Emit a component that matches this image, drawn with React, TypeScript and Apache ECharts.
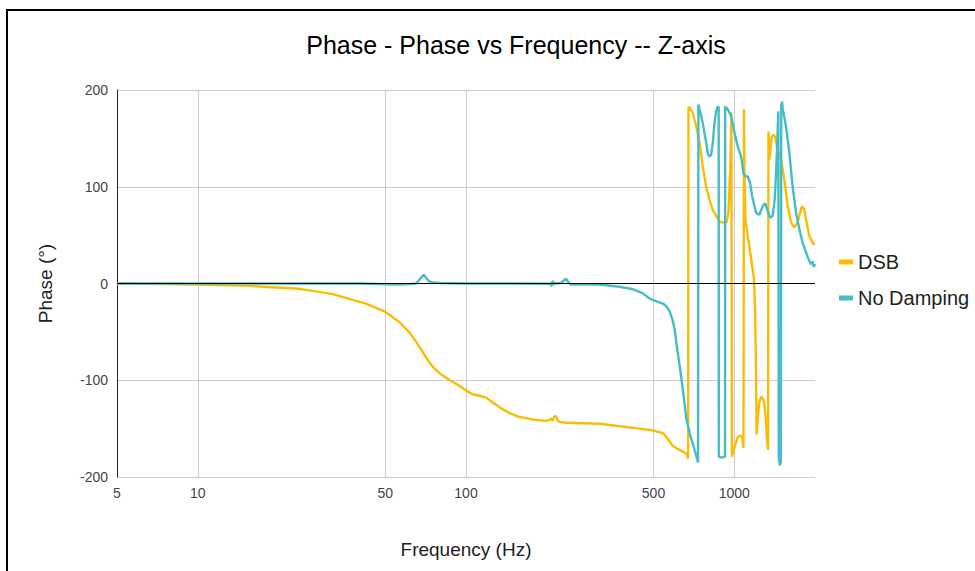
import React, { useEffect, useRef } from "react";
import * as echarts from "echarts";

const titleText = "Phase - Phase vs Frequency -- Z-axis";
const xTicks = [5, 10, 50, 100, 500, 1000];
const yTicksMin = -200;
const yTicksMax = 200;

const dsbFreq = [
  5, 6.6, 10, 15.6, 24, 31.9, 42.6, 49.8, 56.6, 61.7, 65.5, 69, 72, 75.1, 79.8, 84.8, 94.7, 100.6, 105.9, 112,
  119, 125.7, 133.5, 145.4, 158.5, 177, 199.7, 205, 208, 210, 213, 216, 219, 223, 237, 315, 443.5, 501, 545, 591,
  625, 664, 673, 675, 681, 700, 721, 742, 763, 786, 808, 831, 856, 881, 906, 935, 951, 968, 976, 980,
  993, 1010, 1030, 1052, 1070, 1082, 1087, 1092, 1101, 1123, 1150, 1185, 1195, 1201, 1206, 1211, 1223, 1241, 1262, 1285,
  1299, 1315, 1329, 1337, 1341, 1352, 1364, 1379, 1399, 1419, 1448, 1495, 1538, 1582, 1629, 1675, 1723, 1759, 1789, 1825,
  1861, 1905, 1960, 2000,
];
const dsbPhase = [
  0, -0.3, -1, -2.5, -5.5, -11, -21, -29, -40, -51, -61, -71, -79, -86, -93, -98, -106, -111, -114.5, -116,
  -118, -123, -128, -134, -138, -140.5, -142, -141, -139.5, -142, -138, -137, -141, -143, -144, -145, -150, -152, -155, -168,
  -172, -176, -181, 182, 182, 176, 163, 146, 121, 100, 87, 76, 70, 64, 63, 63, 73, 125, 177, -179,
  -173, -166, -159, -157, -159, -170, 180, 110, 65, 49, 30, 5, -25, -60, -94, -156, -139, -122, -117, -120,
  -128, -146, -166, -172, 157, 128, 138, 151, 154, 152, 140, 128, 107, 80, 63, 58, 63, 73, 80, 76,
  63, 49, 42, 40,
];

const ndFreq = [
  5, 20, 40, 55, 62, 65.3, 67.5, 69.6, 71.5, 73, 75, 80, 100, 150, 200, 207, 208, 209, 210, 211,
  212, 214, 225, 232, 236, 240, 245, 260, 315, 373, 420, 455, 480, 496, 520, 545, 560, 575, 588, 599,
  609, 622, 636, 650, 663, 685, 705, 733, 735, 742, 753, 763, 774, 786, 797, 808, 820, 831, 844, 856,
  868, 875, 876, 900, 924, 925, 946, 974, 1002, 1030, 1061, 1082, 1099, 1123, 1146, 1166, 1189, 1206, 1241, 1277,
  1303, 1332, 1360, 1391, 1415, 1432, 1448, 1460, 1465, 1478, 1492, 1497, 1508, 1515, 1560, 1605, 1651, 1700, 1749, 1799,
  1852, 1905, 1933, 1960, 1980, 2000,
];
const ndPhase = [
  0, 0, 0, -1, -0.5, 0, 5, 9, 5, 2, 1, 0.5, 0, 0, -0.3, 0, -3, 2, -2, 3,
  -1, 0, 0.5, 3, 5, 2, -1, -1, -1, -3.4, -6, -10, -15, -17, -19, -21, -24, -29, -37, -47,
  -62, -80, -99, -120, -140, -157, -168, -185, 185, 180, 173, 166, 156, 146, 134, 131, 133, 144, 166, 178,
  183, 182, -179, -180, -179, 183, 180, 173, 156, 142, 131, 114, 111, 110.6, 104, 90, 80, 73, 71, 80,
  83, 75, 68, 70, 87, 114, 149, 178, -180, -188, -184, 184, 188, 181, 162, 135, 100, 73, 56, 42,
  32, 23, 20, 23, 17, 20,
];

const FONT = "'Liberation Sans', Arial, sans-serif";

export default function App() {
  const ref = useRef<HTMLDivElement | null>(null);

  useEffect(() => {
    if (!ref.current) return;
    const chart = echarts.init(ref.current, undefined, { renderer: "svg" });
    const dsbData = dsbFreq.map((f, i) => [f, dsbPhase[i]]);
    const ndData = ndFreq.map((f, i) => [f, ndPhase[i]]);
    chart.setOption({
      animation: false,
      backgroundColor: "#ffffff",
      textStyle: { fontFamily: FONT },
      title: {
        text: titleText,
        left: 511,
        top: 27,
        textAlign: "center",
        textStyle: { fontFamily: FONT, fontSize: 25, fontWeight: "normal", color: "#000" },
      },
      legend: {
        orient: "vertical",
        left: 834,
        top: 247,
        itemWidth: 14,
        itemHeight: 5,
        itemGap: 16,
        icon: "rect",
        data: ["DSB", "No Damping"],
        textStyle: { fontFamily: FONT, fontSize: 20, color: "#222" },
      },
      graphic: [
        {
          type: "rect",
          shape: { x: 7, y: 10, width: 1000, height: 600 },
          style: { fill: "none", stroke: "#000", lineWidth: 2 },
          silent: true,
        },
      ],
      grid: { left: 117, right: 160, top: 90, bottom: 94 },
      xAxis: {
        type: "log",
        logBase: 10,
        min: 5,
        max: 2000,
        name: "Frequency (Hz)",
        nameLocation: "middle",
        nameGap: 63,
        nameTextStyle: { fontFamily: FONT, fontSize: 19, color: "#222" },
        axisLine: { show: false },
        axisTick: { show: false, customValues: xTicks },
        axisLabel: {
          customValues: xTicks,
          formatter: (v: number) => String(Math.round(v)),
          color: "#444",
          fontSize: 14,
          margin: 9,
          fontFamily: FONT,
        },
        splitLine: { show: true, lineStyle: { color: "#cccccc", width: 1 } },
      },
      yAxis: {
        type: "value",
        min: yTicksMin,
        max: yTicksMax,
        interval: 100,
        name: "Phase (°)",
        nameLocation: "middle",
        nameGap: 62,
        nameTextStyle: { fontFamily: FONT, fontSize: 19, color: "#222" },
        axisLine: { show: true, lineStyle: { color: "#222", width: 1 } },
        axisTick: { show: false },
        axisLabel: { color: "#444", fontSize: 14, margin: 9, fontFamily: FONT },
        splitLine: { show: true, lineStyle: { color: "#cccccc", width: 1 } },
      },
      series: [
        {
          name: "DSB",
          type: "line",
          data: dsbData,
          showSymbol: false,
          symbol: "none",
          color: "#fbbc04",
          lineStyle: { width: 2.4, color: "#fbbc04" },
          markLine: {
            silent: true,
            symbol: "none",
            label: { show: false },
            lineStyle: { color: "#000", width: 1.2, type: "solid" },
            data: [{ yAxis: 0 }],
          },
        },
        {
          name: "No Damping",
          type: "line",
          data: ndData,
          showSymbol: false,
          symbol: "none",
          color: "#46bdc6",
          lineStyle: { width: 2.4, color: "#46bdc6" },
        },
      ],
    });
    return () => chart.dispose();
  }, []);

  return (
    <div
      ref={ref}
      style={{ position: "absolute", left: 0, top: 0, width: 975, height: 571, background: "#fff" }}
    />
  );
}
